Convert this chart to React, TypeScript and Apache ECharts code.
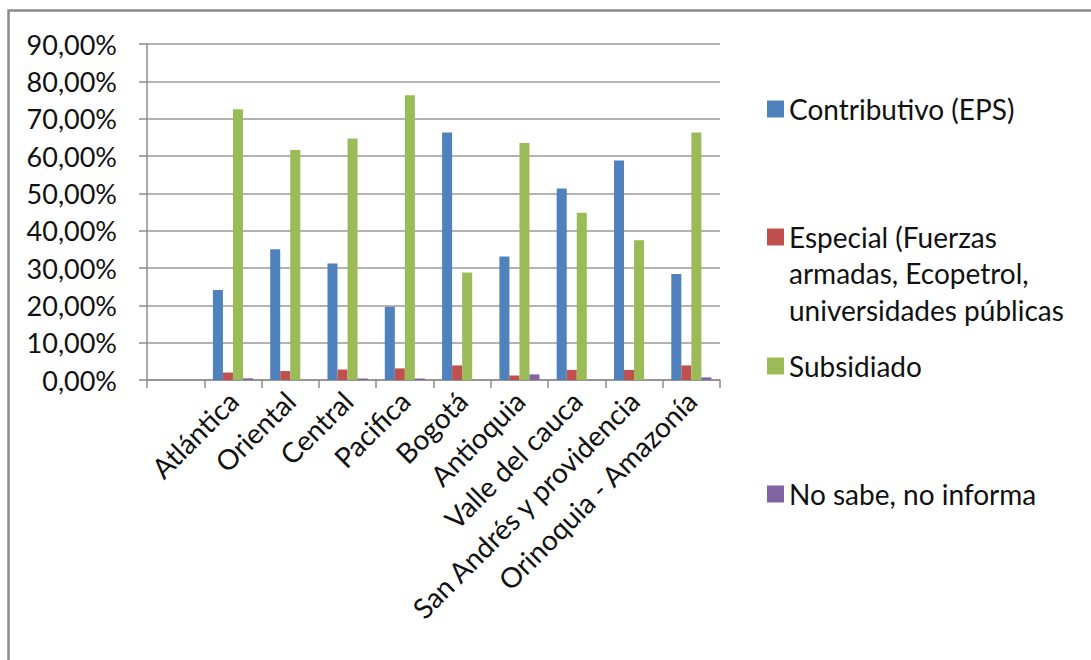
import React, { useEffect, useRef } from "react";
import * as echarts from "echarts";

// Regions (the first slot is an empty category, as in the source sheet)
const regions = [
  "",
  "Atlántica",
  "Oriental",
  "Central",
  "Pacifica",
  "Bogotá",
  "Antioquia",
  "Valle del cauca",
  "San Andrés y providencia",
  "Orinoquia - Amazonía",
];

// Share of respondents per affiliation regime (%)
const contributivo = [null, 24.1, 35.0, 31.2, 19.6, 66.3, 33.1, 51.3, 58.8, 28.4];
const especial = [null, 2.0, 2.4, 2.8, 3.1, 3.9, 1.2, 2.7, 2.7, 3.9];
const subsidiado = [null, 72.5, 61.6, 64.7, 76.3, 28.8, 63.5, 44.8, 37.4, 66.3];
const noSabe = [null, 0.45, 0, 0.4, 0.4, 0, 1.5, 0, 0, 0.7];

const seriesNames = [
  "Contributivo (EPS)",
  "Especial (Fuerzas armadas, Ecopetrol, universidades públicas",
  "Subsidiado",
  "No sabe, no informa",
];
const colors = ["#4F81BD", "#C0504D", "#9BBB59", "#8064A2"];

const FONT = "Lato, 'Liberation Sans', sans-serif";
const FS = 28;
const FS_Y = 27;
const TEXT = "#111";

export default function App() {
  const ref = useRef<HTMLDivElement>(null);

  useEffect(() => {
    if (!ref.current) return;
    const chart = echarts.init(ref.current, null, { renderer: "svg" });

    const values = [contributivo, especial, subsidiado, noSabe];
    const legendTops = [95, 223, 352, 480];

    chart.setOption({
      animation: false,
      backgroundColor: "#fff",
      textStyle: { fontFamily: FONT },
      grid: { left: 147, right: 371, top: 44, bottom: 280, containLabel: false },
      legend: seriesNames.map((name, i) => ({
        data: [name],
        left: 767,
        top: legendTops[i],
        orient: "vertical",
        itemWidth: 17,
        itemHeight: 17,
        itemGap: 0,
        padding: 0,
        selectedMode: false,
        icon: "rect",
        formatter: (n: string) =>
          n.startsWith("Especial") ? "Especial (Fuerzas" : n,
        textStyle: { fontFamily: FONT, fontSize: FS, color: TEXT },
      })),
      graphic: [
        {
          type: "rect",
          silent: true,
          shape: { x: 8.5, y: 10.5, width: 1200, height: 800 },
          style: { fill: "none", stroke: "#8a8a8a", lineWidth: 2.5 },
        },
        {
          type: "text",
          left: 789,
          top: 254,
          style: {
            text: "armadas, Ecopetrol,\nuniversidades públicas",
            font: `${FS}px ${FONT}`,
            fill: TEXT,
            lineHeight: 37,
          },
        },
      ],
      xAxis: {
        type: "category",
        data: regions,
        axisLine: { lineStyle: { color: "#8c8c8c", width: 1.5 } },
        axisTick: { show: true, length: 8, lineStyle: { color: "#8c8c8c", width: 1.5 } },
        axisLabel: {
          interval: 0,
          rotate: 45,
          margin: 16,
          fontSize: FS,
          fontFamily: FONT,
          color: TEXT,
        },
      },
      yAxis: {
        type: "value",
        min: 0,
        max: 90,
        interval: 10,
        axisLine: { show: true, lineStyle: { color: "#8c8c8c", width: 1.5 } },
        axisTick: { show: true, length: 8, lineStyle: { color: "#8c8c8c", width: 1.5 } },
        splitLine: { lineStyle: { color: "#9a9a9a", width: 1.5 } },
        axisLabel: {
          margin: 30,
          fontSize: FS_Y,
          fontFamily: FONT,
          color: TEXT,
          formatter: (v: number) => v.toFixed(2).replace(".", ",") + "%",
        },
      },
      series: seriesNames.map((name, i) => ({
        name,
        type: "bar",
        data: values[i],
        barGap: "0%",
        barCategoryGap: "30%",
        itemStyle: { color: colors[i] },
      })),
    });

    return () => chart.dispose();
  }, []);

  return (
    <div
      ref={ref}
      style={{ position: "fixed", left: 0, top: 0, width: 1091, height: 660 }}
    />
  );
}
